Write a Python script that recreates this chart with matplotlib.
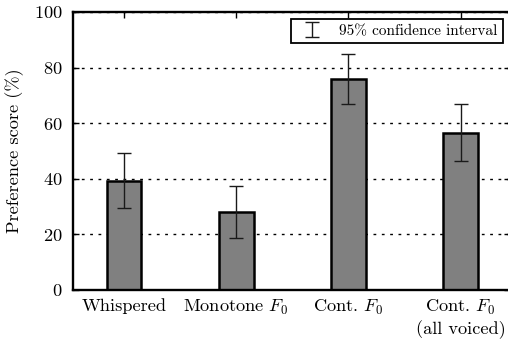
import matplotlib
matplotlib.use('Agg')
import matplotlib.pyplot as plt

plt.rcParams['font.family'] = 'cmr10'
plt.rcParams['mathtext.fontset'] = 'cm'
plt.rcParams['axes.formatter.use_mathtext'] = True

# data
conditions = ['Whispered', 'Monotone $F_0$', 'Cont. $F_0$', 'Cont. $F_0$\n(all voiced)']
scores = [39.3, 27.9, 75.8, 56.6]
ci_err = [10.0, 9.3, 9.0, 10.1]
yticks = [0, 20, 40, 60, 80, 100]

fig = plt.figure(figsize=(5.08, 3.41), dpi=100)
ax = fig.add_axes([0.143, 0.150, 0.861, 0.815])

x = list(range(len(conditions)))
ax.bar(x, scores, width=0.31, color='#808080', edgecolor='black', linewidth=1.8)
ax.errorbar(x, scores, yerr=ci_err, fmt='none', ecolor='#1a1a1a', elinewidth=1.0,
            capsize=5, capthick=1.0, label='95% confidence interval')

ax.set_xlim(-0.457, 3.44)
ax.set_ylim(0, 100)
ax.set_yticks(yticks)
ax.set_xticks(x)
ax.set_xticklabels(conditions, fontsize=13.2)
ax.tick_params(axis='y', labelsize=13.2, pad=7)
ax.tick_params(axis='x', pad=6)
ax.tick_params(direction='in', length=4.5, width=1.0, top=True, right=True)
ax.set_ylabel('Preference score (%)', fontsize=13.2, labelpad=7)

ax.set_axisbelow(True)
ax.yaxis.grid(True, color='black', linewidth=1.0, linestyle=(0, (2, 4)))
for s in ax.spines.values():
    s.set_linewidth(1.7)

leg = ax.legend(loc='upper right', fontsize=11, fancybox=False, framealpha=1,
                edgecolor='black', borderaxespad=0.45, borderpad=0.35)
leg.get_frame().set_linewidth(1.3)

fig.savefig('out.png', dpi=100)
